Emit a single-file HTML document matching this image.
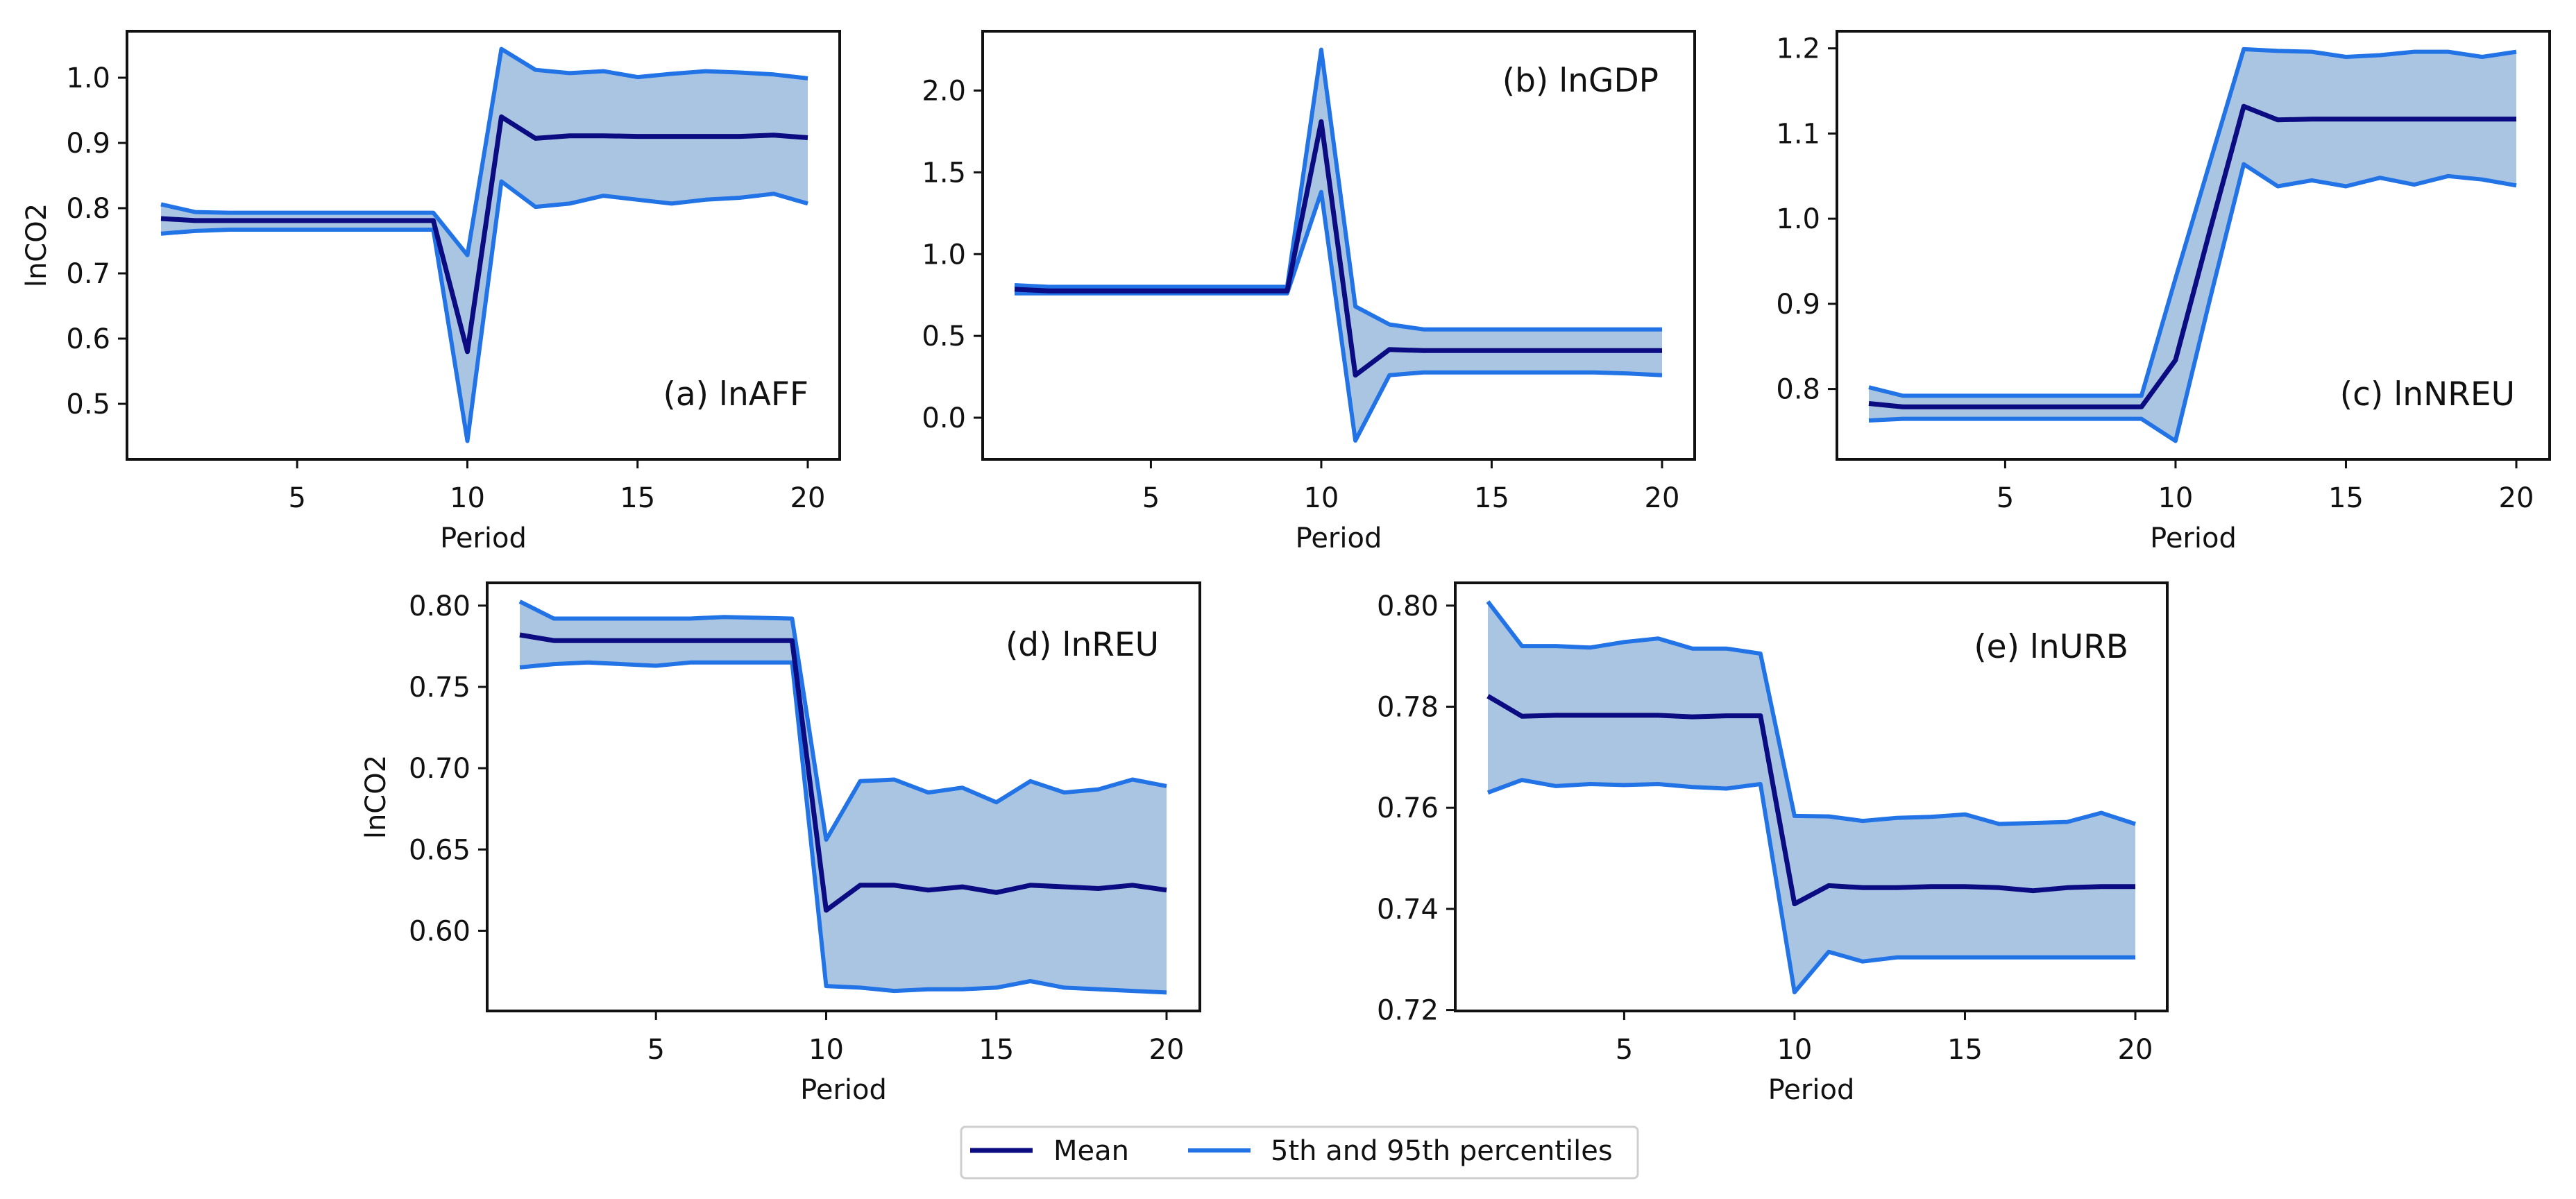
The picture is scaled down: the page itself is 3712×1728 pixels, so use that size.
<!DOCTYPE html>
<html><head><meta charset="utf-8"><style>
html,body{margin:0;padding:0;background:#fff}
svg{display:block}
text{font-family:"DejaVu Sans","Liberation Sans",sans-serif;fill:#111}
</style></head><body>
<svg id="fig" width="3712" height="1728" viewBox="0 0 3712 1728" xmlns="http://www.w3.org/2000/svg">
<g>
<rect x="1385" y="1624" width="975" height="74" rx="6" fill="#fff" stroke="#cfcfcf" stroke-width="3"/>
<line x1="1398" y1="1658" x2="1488" y2="1658" stroke="#0b0b82" stroke-width="7"/>
<text x="1518" y="1672" font-size="40">Mean</text>
<line x1="1712" y1="1658" x2="1802" y2="1658" stroke="#2273e6" stroke-width="6"/>
<text x="1831" y="1672" font-size="40">5th and 95th percentiles</text>
</g>
</svg>
<script>
const periods = [1,2,3,4,5,6,7,8,9,10,11,12,13,14,15,16,17,18,19,20];
const xTicks = [5,10,15,20];

const aUpper = [0.806,0.794,0.793,0.793,0.793,0.793,0.793,0.793,0.793,0.728,1.044,1.012,1.007,1.010,1.001,1.006,1.010,1.008,1.005,0.999];
const aMean  = [0.784,0.781,0.781,0.781,0.781,0.781,0.781,0.781,0.781,0.580,0.940,0.907,0.911,0.911,0.910,0.910,0.910,0.910,0.912,0.908];
const aLower = [0.761,0.765,0.767,0.767,0.767,0.767,0.767,0.767,0.767,0.443,0.841,0.802,0.807,0.819,0.813,0.807,0.813,0.816,0.822,0.807];
const aTicks = [0.5,0.6,0.7,0.8,0.9,1.0];

const bUpper = [0.81,0.80,0.80,0.80,0.80,0.80,0.80,0.80,0.80,2.25,0.68,0.57,0.54,0.54,0.54,0.54,0.54,0.54,0.54,0.54];
const bMean  = [0.785,0.775,0.775,0.775,0.775,0.775,0.775,0.775,0.775,1.81,0.26,0.417,0.41,0.41,0.41,0.41,0.41,0.41,0.41,0.41];
const bLower = [0.76,0.76,0.76,0.76,0.76,0.76,0.76,0.76,0.76,1.38,-0.14,0.26,0.277,0.277,0.277,0.277,0.277,0.277,0.27,0.26];
const bTicks = [0.0,0.5,1.0,1.5,2.0];

const cUpper = [0.802,0.792,0.792,0.792,0.792,0.792,0.792,0.792,0.792,0.93,1.065,1.199,1.197,1.196,1.190,1.192,1.196,1.196,1.190,1.196];
const cMean  = [0.783,0.779,0.779,0.779,0.779,0.779,0.779,0.779,0.779,0.834,0.985,1.132,1.116,1.117,1.117,1.117,1.117,1.117,1.117,1.117];
const cLower = [0.763,0.765,0.765,0.765,0.765,0.765,0.765,0.765,0.765,0.739,0.904,1.064,1.038,1.045,1.038,1.048,1.040,1.050,1.046,1.039];
const cTicks = [0.8,0.9,1.0,1.1,1.2];

const dUpper = [0.8025,0.792,0.792,0.792,0.792,0.792,0.793,0.7925,0.792,0.656,0.692,0.693,0.685,0.688,0.679,0.692,0.685,0.687,0.693,0.689];
const dMean  = [0.782,0.7785,0.7785,0.7785,0.7785,0.7785,0.7785,0.7785,0.7785,0.6126,0.628,0.628,0.625,0.627,0.6235,0.628,0.627,0.626,0.628,0.625];
const dLower = [0.762,0.764,0.765,0.764,0.763,0.765,0.765,0.765,0.765,0.566,0.565,0.563,0.564,0.564,0.565,0.569,0.565,0.564,0.563,0.562];
const dTicks = [0.60,0.65,0.70,0.75,0.80];

const eUpper = [0.8008,0.792,0.792,0.7917,0.7928,0.7935,0.7915,0.7915,0.7905,0.7584,0.7583,0.7574,0.758,0.7582,0.7587,0.7568,0.757,0.7572,0.759,0.7568];
const eMean  = [0.7821,0.7781,0.7783,0.7783,0.7783,0.7783,0.778,0.7782,0.7782,0.741,0.7446,0.7442,0.7442,0.7444,0.7444,0.7442,0.7436,0.7442,0.7444,0.7444];
const eLower = [0.763,0.7655,0.7643,0.7647,0.7645,0.7647,0.7641,0.7638,0.7647,0.7235,0.7315,0.7296,0.7304,0.7304,0.7304,0.7304,0.7304,0.7304,0.7304,0.7304];
const eTicks = [0.72,0.74,0.76,0.78,0.80];

const NS = "http://www.w3.org/2000/svg";
const svg = document.getElementById('fig');
function mk(tag, attrs, parent){ const el=document.createElementNS(NS,tag); for(const k in attrs) el.setAttribute(k,attrs[k]); parent.appendChild(el); return el; }

function panel(cfg, upper, mean, lower, yTicks){
  const g = mk('g',{},svg);
  
  
  const X = v => cfg.x1px + (v-1)*(cfg.x20px-cfg.x1px)/19;
  const Y = v => cfg.yA + (v-cfg.vA)*(cfg.yB-cfg.yA)/(cfg.vB-cfg.vA);
  let d = 'M';
  periods.forEach((p,i)=>{ d += (i?' L':'')+X(p).toFixed(1)+','+Y(upper[i]).toFixed(1); });
  for(let i=periods.length-1;i>=0;i--) d += ' L'+X(periods[i]).toFixed(1)+','+Y(lower[i]).toFixed(1);
  const band = mk('path',{d:d+' Z',fill:'#aac5e1'},g);
  
  
  const line = (arr,color,w,name)=>{
    const pts = periods.map((p,i)=>X(p).toFixed(1)+','+Y(arr[i]).toFixed(1)).join(' ');
    const pl = mk('polyline',{points:pts,fill:'none',stroke:color,'stroke-width':w,'stroke-linejoin':'round'},g);
    
    
  };
  line(upper,'#2273e6',6,'upper-95th-line');
  line(lower,'#2273e6',6,'lower-5th-line');
  line(mean,'#0b0b82',7,'mean-line');
  const frame = mk('rect',{x:cfg.L,y:cfg.T,width:cfg.R-cfg.L,height:cfg.B-cfg.T,fill:'none',stroke:'#111','stroke-width':4},g);
  
  
  xTicks.forEach(t=>{
    const tk = mk('line',{x1:X(t),y1:cfg.B,x2:X(t),y2:cfg.B+13,stroke:'#111','stroke-width':3},g);
    
    
    const tl = mk('text',{x:X(t),y:cfg.B+69,'font-size':40,'text-anchor':'middle'},g);
    tl.textContent = String(t);
    
    
  });
  yTicks.forEach(t=>{
    const tk = mk('line',{x1:cfg.L-13,y1:Y(t),x2:cfg.L,y2:Y(t),stroke:'#111','stroke-width':3},g);
    
    
    const tl = mk('text',{x:cfg.L-24,y:Y(t)+14,'font-size':40,'text-anchor':'end'},g);
    tl.textContent = t.toFixed(cfg.dec);
    
    
  });
  const xl = mk('text',{x:(cfg.L+cfg.R)/2,y:cfg.B+127,'font-size':40,'text-anchor':'middle'},g);
  xl.textContent = 'Period';
  
  
  if(cfg.ylab){
    const yl = mk('text',{x:0,y:0,'font-size':40,'text-anchor':'middle',transform:'translate('+cfg.ylab+','+(cfg.T+cfg.B)/2+') rotate(-90)'},g);
    yl.textContent = 'lnCO2';
    
    
  }
  const pl = mk('text',{x:cfg.labX,y:cfg.labY,'font-size':47,'text-anchor':'end'},g);
  pl.textContent = cfg.label;
  
  
}

panel({id:'a',L:183,R:1210,T:45,B:662,x1px:232,x20px:1164,vA:1.0,yA:112,vB:0.5,yB:582,dec:1,ylab:66,label:'(a) lnAFF',labX:1165,labY:584},aUpper,aMean,aLower,aTicks);
panel({id:'b',L:1416,R:2442,T:45,B:662,x1px:1462,x20px:2395,vA:2.0,yA:130.5,vB:0.0,yB:602,dec:1,ylab:0,label:'(b) lnGDP',labX:2390,labY:132},bUpper,bMean,bLower,bTicks);
panel({id:'c',L:2647,R:3674,T:45,B:662,x1px:2693,x20px:3626,vA:1.2,yA:69.7,vB:0.8,yB:560.6,dec:1,ylab:0,label:'(c) lnNREU',labX:3624,labY:584},cUpper,cMean,cLower,cTicks);
panel({id:'d',L:702,R:1729,T:840,B:1457,x1px:749,x20px:1681,vA:0.80,yA:872.8,vB:0.60,yB:1341.4,dec:2,ylab:555,label:'(d) lnREU',labX:1670,labY:945},dUpper,dMean,dLower,dTicks);
panel({id:'e',L:2097,R:3123,T:840,B:1457,x1px:2144,x20px:3077,vA:0.80,yA:872.8,vB:0.72,yB:1455.6,dec:2,ylab:0,label:'(e) lnURB',labX:3067,labY:948},eUpper,eMean,eLower,eTicks);
</script>
</body></html>
